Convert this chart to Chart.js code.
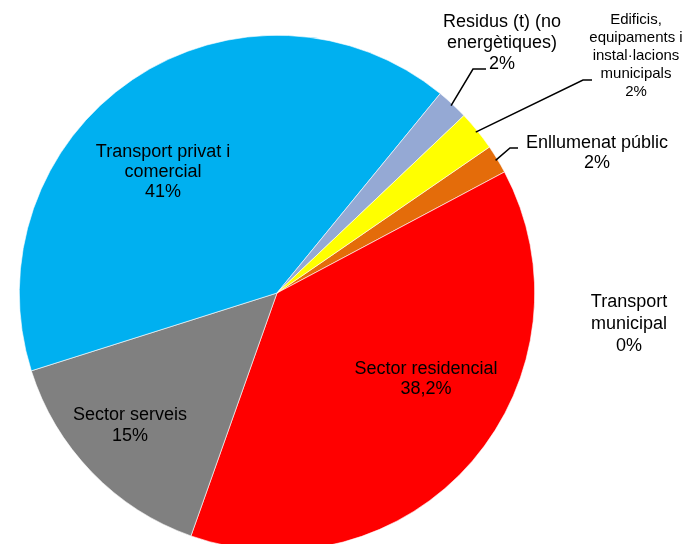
<!DOCTYPE html>
<html>
<head>
<meta charset="utf-8">
<script src="https://cdn.jsdelivr.net/npm/chart.js@4"></script>
<style>
html, body { margin: 0; padding: 0; background: #fff; overflow: hidden; }
#wrap { position: absolute; left: 0; top: 0; width: 688px; height: 560px; }
</style>
</head>
<body>
<div id="wrap"><canvas id="pieChart" width="688" height="560"></canvas></div>
<script>
// sectors, clockwise starting from the orange slice
const categories = ['Enllumenat públic', 'Sector residencial', 'Sector serveis', 'Transport privat i comercial', 'Residus (t) (no energètiques)', 'Edificis, equipaments i instal·lacions municipals', 'Transport municipal'];
const values = [1.8, 38.2, 14.7, 40.8, 2.0, 2.5, 0.0];
const pctLabels = ['2%', '38,2%', '15%', '41%', '2%', '2%', '0%'];
const colors = ['#E46C0A', '#FF0000', '#808080', '#00B0F0', '#95A9D4', '#FFFF00', '#4F81BD'];

// label text lines and where they sit (x, y of first line, line height, font size)
const labelLayout = [
    { lines: ['Enllumenat públic'], x: 597, y: 143, lh: 20, size: 18, leader: [[510, 148], [518, 148]] },
    { lines: ['Sector residencial'], x: 426, y: 369, lh: 20, size: 18 },
    { lines: ['Sector serveis'], x: 130, y: 415, lh: 21, size: 18 },
    { lines: ['Transport privat i', 'comercial'], x: 163, y: 152, lh: 20, size: 18 },
    { lines: ['Residus (t) (no', 'energètiques)'], x: 502, y: 22, lh: 21, size: 18, leader: [[473, 69], [486, 69]] },
    { lines: ['Edificis,', 'equipaments i', 'instal·lacions', 'municipals'], x: 636, y: 20, lh: 18, size: 15, leader: [[583, 80], [592, 80]] },
    { lines: ['Transport', 'municipal'], x: 629, y: 302, lh: 22, size: 18 }
];

const labelPlugin = {
    id: 'sliceLabels',
    afterDatasetsDraw(chart){ //подписи и выноски
        const ctx = chart.ctx;
        const arcs = chart.getDatasetMeta(0).data;
        ctx.save();
        ctx.fillStyle = '#000';
        ctx.strokeStyle = '#000';
        ctx.lineWidth = 1.5;
        ctx.textAlign = 'center';
        ctx.textBaseline = 'middle';
        labelLayout.forEach(function(lay, i){
            if(lay.leader){
                const a = arcs[i];
                const mid = (a.startAngle + a.endAngle) / 2;
                const r = a.outerRadius - 2;
                ctx.beginPath();
                ctx.moveTo(a.x + Math.cos(mid) * r, a.y + Math.sin(mid) * r);
                lay.leader.forEach(function(p){ ctx.lineTo(p[0], p[1]); });
                ctx.stroke();
            }
            ctx.font = lay.size + 'px "Liberation Sans", Arial, sans-serif';
            const all = lay.lines.concat([pctLabels[i]]);
            all.forEach(function(t, k){
                ctx.fillText(t, lay.x, lay.y + k * lay.lh);
            });
        });
        ctx.restore();
    }
};

const pieChart = new Chart(document.getElementById('pieChart'), {
    type: 'pie',
    data: {
        labels: categories,
        datasets: [{
            data: values,
            backgroundColor: colors,
            borderColor: '#ffffff',
            borderWidth: 0.6
        }]
    },
    options: {
        responsive: false,
        animation: false,
        rotation: 55.5,
        layout: { padding: { left: 19, top: 35, right: 153, bottom: 9 } },
        plugins: { legend: { display: false }, tooltip: { enabled: false } }
    },
    plugins: [labelPlugin]
});
</script>
</body>
</html>
